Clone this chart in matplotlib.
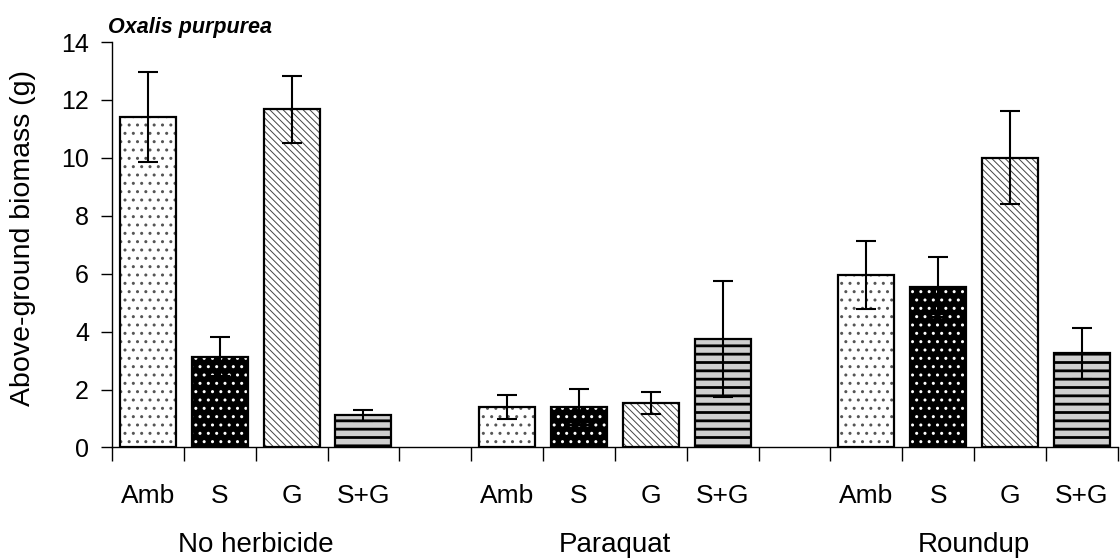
import matplotlib
matplotlib.use("Agg")
import matplotlib.pyplot as plt
from matplotlib.transforms import blended_transform_factory
import numpy as np

plt.rcParams['font.family'] = ['Liberation Sans', 'DejaVu Sans']

groups = ["No herbicide", "Paraquat", "Roundup"]
treatments = ["Amb", "S", "G", "S+G"]

# mean above-ground biomass (g) per group, in treatment order
means = {
    "No herbicide": [11.40, 3.14, 11.68, 1.11],
    "Paraquat":     [1.40, 1.40, 1.53, 3.74],
    "Roundup":      [5.95, 5.54, 10.01, 3.25],
}
errors = {
    "No herbicide": [1.55, 0.67, 1.15, 0.20],
    "Paraquat":     [0.41, 0.62, 0.38, 2.00],
    "Roundup":      [1.17, 1.03, 1.60, 0.88],
}

# fill style per treatment: face, hatch, hatch colour, hatch linewidth
styles = {
    "Amb": dict(face="white", hatch="..", hcol="#555555", hlw=1.0),
    "S":   dict(face="black", hatch="..", hcol="white", hlw=1.0),
    "G":   dict(face="white", hatch="\\\\\\\\\\", hcol="#444444", hlw=0.7),
    "S+G": dict(face="#cfcfcf", hatch="--", hcol="black", hlw=2.0),
}

fig = plt.figure(figsize=(11.2, 5.6), dpi=100)
ax = fig.add_axes([0.1, 0.2009, 0.898, 0.724])

bar_w = 0.78
slot = 0
centers = []
for g in groups:
    for t, m, e in zip(treatments, means[g], errors[g]):
        x = slot + 0.5
        centers.append((x, t))
        st = styles[t]
        with plt.rc_context({'hatch.linewidth': st["hlw"]}):
            fill = ax.bar(x, m, width=bar_w, color=st["face"], edgecolor=st["hcol"],
                          hatch=st["hatch"], linewidth=0, zorder=2)
            for p in fill:
                if hasattr(p, "set_hatch_linewidth"):
                    p.set_hatch_linewidth(st["hlw"])
        ax.bar(x, m, width=bar_w, facecolor="none", edgecolor="black",
               linewidth=1.6, zorder=3)
        ax.errorbar(x, m, yerr=e, fmt="none", ecolor="black", elinewidth=1.5,
                    capsize=7.5, capthick=1.5, zorder=4)
        slot += 1
    slot += 1  # gap between herbicide groups
n_slots = slot - 1

ax.set_xlim(0, n_slots)
ax.set_ylim(0, 14)
ax.set_yticks(np.arange(0, 15, 2))
ax.set_xticks(np.arange(0, n_slots + 1))
ax.set_xticklabels([])
ax.tick_params(axis="x", direction="out", length=10, width=1.0, color="black")
ax.tick_params(axis="y", direction="out", length=8, width=1.0, labelsize=18, pad=8.5)
for s in ["top", "right"]:
    ax.spines[s].set_visible(False)
for s in ["left", "bottom"]:
    ax.spines[s].set_linewidth(1.0)

tr = blended_transform_factory(ax.transData, fig.transFigure)
for x, t in centers:
    ax.text(x, 1 - 503 / 560, t, transform=tr, ha="center", va="baseline", fontsize=19)
for i, g in enumerate(groups):
    gx = i * 5 + 2.0
    ax.text(gx, 1 - 552 / 560, g, transform=tr, ha="center", va="baseline", fontsize=20)

fig.text(23 / 1120, 1 - 238 / 560, "Above-ground biomass (g)", fontsize=20.5,
         rotation=90, ha="center", va="center")
fig.text(0.0964, 1 - 33 / 560, "Oxalis purpurea", fontsize=15.5, fontweight="bold",
         fontstyle="italic", ha="left", va="baseline")

fig.savefig("out.png", dpi=100)
